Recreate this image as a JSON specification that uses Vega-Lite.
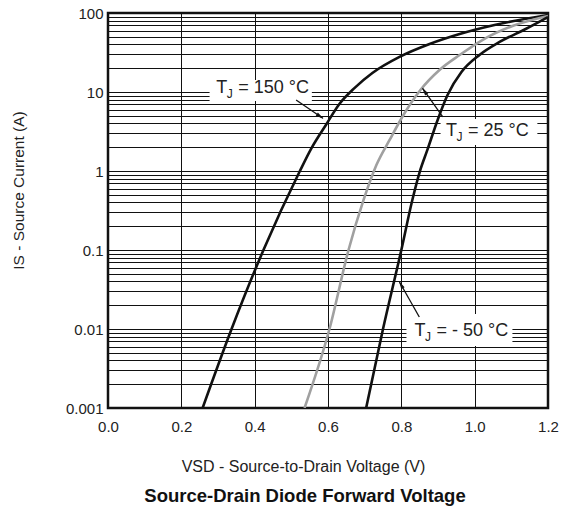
{
  "$schema": "https://vega.github.io/schema/vega-lite/v6.json",
  "width": 440,
  "height": 395,
  "autosize": {"type": "none"},
  "padding": {"left": 108, "top": 13, "right": 18, "bottom": 106},
  "background": "white",
  "config": {
    "view": {"stroke": "#111", "strokeWidth": 2.5},
    "font": "Liberation Sans"
  },
  "title": {
    "text": "Source-Drain Diode Forward Voltage",
    "orient": "bottom",
    "anchor": "middle",
    "dx": -23,
    "offset": 13,
    "fontSize": 18.5,
    "fontWeight": "bold",
    "font": "Liberation Sans",
    "color": "#111"
  },
  "datasets": {
    "curves": [
      {"series": "150", "v": 0.258, "i": 0.001},
      {"series": "150", "v": 0.337, "i": 0.01},
      {"series": "150", "v": 0.424, "i": 0.1},
      {"series": "150", "v": 0.522, "i": 0.97},
      {"series": "150", "v": 0.555, "i": 1.95},
      {"series": "150", "v": 0.596, "i": 3.94},
      {"series": "150", "v": 0.631, "i": 7.04},
      {"series": "150", "v": 0.672, "i": 11.2},
      {"series": "150", "v": 0.721, "i": 17.4},
      {"series": "150", "v": 0.795, "i": 27.8},
      {"series": "150", "v": 0.877, "i": 40.5},
      {"series": "150", "v": 0.959, "i": 54.2},
      {"series": "150", "v": 1.054, "i": 70.5},
      {"series": "150", "v": 1.2, "i": 94.3},
      {"series": "25", "v": 0.536, "i": 0.001},
      {"series": "25", "v": 0.604, "i": 0.01},
      {"series": "25", "v": 0.656, "i": 0.1},
      {"series": "25", "v": 0.697, "i": 0.43},
      {"series": "25", "v": 0.732, "i": 1.19},
      {"series": "25", "v": 0.768, "i": 2.47},
      {"series": "25", "v": 0.809, "i": 5.42},
      {"series": "25", "v": 0.852, "i": 10.6},
      {"series": "25", "v": 0.904, "i": 19},
      {"series": "25", "v": 0.959, "i": 29.4},
      {"series": "25", "v": 1.021, "i": 45.5},
      {"series": "25", "v": 1.103, "i": 68.4},
      {"series": "25", "v": 1.2, "i": 91.7},
      {"series": "-50", "v": 0.704, "i": 0.001},
      {"series": "-50", "v": 0.75, "i": 0.01},
      {"series": "-50", "v": 0.8, "i": 0.1},
      {"series": "-50", "v": 0.83, "i": 0.43},
      {"series": "-50", "v": 0.85, "i": 0.97},
      {"series": "-50", "v": 0.871, "i": 1.85},
      {"series": "-50", "v": 0.899, "i": 4.43},
      {"series": "-50", "v": 0.926, "i": 9.16},
      {"series": "-50", "v": 0.964, "i": 17.9},
      {"series": "-50", "v": 1.013, "i": 29.4},
      {"series": "-50", "v": 1.068, "i": 43},
      {"series": "-50", "v": 1.139, "i": 62.7},
      {"series": "-50", "v": 1.2, "i": 89}
    ],
    "notes": [
      {"label": "150", "tx": 0.295, "ti": 11.2, "rest": "= 150 °C", "bx1": 0.277, "bx2": 0.556, "bi1": 7.7, "bi2": 14.2, "ax1": 0.513, "ai1": 7.93, "ax2": 0.586, "ai2": 4.66, "hx": 0.577, "hi": 4.97},
      {"label": "25", "tx": 0.922, "ti": 3.2, "rest": "= 25 °C", "bx1": 0.907, "bx2": 1.171, "bi1": 2.13, "bi2": 4.55, "ax1": 0.913, "ai1": 4.86, "ax2": 0.858, "ai2": 11.1, "hx": 0.864, "hi": 10.1},
      {"label": "-50", "tx": 0.836, "ti": 0.0093, "rest": "= - 50 °C", "bx1": 0.814, "bx2": 1.103, "bi1": 0.0061, "bi2": 0.0155, "ax1": 0.849, "ai1": 0.0142, "ax2": 0.795, "ai2": 0.0394, "hx": 0.8, "hi": 0.0356}
    ]
  },
  "layer": [
    {
      "data": {"name": "notes"},
      "mark": {"type": "rect", "fill": "white"},
      "encoding": {
        "x": {
          "field": "bx1", "type": "quantitative",
          "scale": {"domain": [0, 1.2], "nice": false, "zero": false},
          "axis": {
            "title": "VSD - Source-to-Drain Voltage (V)",
            "values": [0, 0.2, 0.4, 0.6, 0.8, 1.0, 1.2],
            "format": ".1f",
            "grid": true, "gridColor": "#111", "gridWidth": 1, "gridOpacity": 1,
            "domain": false, "ticks": false,
            "labelPadding": 11, "labelFontSize": 15, "labelColor": "#222", "labelFont": "Liberation Sans", "labelFlush": false,
            "titleFontSize": 16, "titleFontWeight": "normal", "titleColor": "#222", "titleFont": "Liberation Sans",
            "titleX": 195, "titleY": 58, "titleBaseline": "middle", "titleAlign": "center"
          }
        },
        "x2": {"field": "bx2"},
        "y": {
          "field": "bi1", "type": "quantitative",
          "scale": {"type": "log", "domain": [0.001, 100], "nice": false},
          "axis": {
            "title": "IS - Source Current (A)",
            "values": [0.001, 0.002, 0.003, 0.004, 0.005, 0.006, 0.007, 0.008, 0.009,
                       0.01, 0.02, 0.03, 0.04, 0.05, 0.06, 0.07, 0.08, 0.09,
                       0.1, 0.2, 0.3, 0.4, 0.5, 0.6, 0.7, 0.8, 0.9,
                       1, 2, 3, 4, 5, 6, 7, 8, 9,
                       10, 20, 30, 40, 50, 60, 70, 80, 90, 100],
            "labelExpr": "(datum.value == 0.001 || datum.value == 0.01 || datum.value == 0.1 || datum.value == 1 || datum.value == 10 || datum.value == 100) ? format(datum.value, '~g') : ''",
            "grid": true, "gridColor": "#111", "gridWidth": 1, "gridOpacity": 1,
            "domain": false, "ticks": false,
            "labelPadding": 5, "labelFontSize": 15, "labelColor": "#222", "labelFont": "Liberation Sans", "labelFlush": false, "labelOverlap": false,
            "titleFontSize": 15.5, "titleFontWeight": "normal", "titleColor": "#222", "titleFont": "Liberation Sans",
            "titleX": -90, "titleY": 177, "titleBaseline": "middle", "titleAlign": "center"
          }
        },
        "y2": {"field": "bi2"}
      }
    },
    {
      "data": {"name": "curves"},
      "mark": {"type": "line", "strokeWidth": 2.6, "clip": true, "interpolate": "monotone"},
      "encoding": {
        "x": {"field": "v", "type": "quantitative"},
        "y": {"field": "i", "type": "quantitative"},
        "detail": {"field": "series"},
        "color": {
          "field": "series", "type": "nominal",
          "scale": {"domain": ["150", "25", "-50"], "range": ["#111111", "#a0a0a0", "#111111"]},
          "legend": null
        }
      }
    },
    {
      "data": {"name": "notes"},
      "mark": {"type": "rule", "strokeWidth": 1.3, "color": "#111"},
      "encoding": {
        "x": {"field": "ax1", "type": "quantitative"},
        "y": {"field": "ai1", "type": "quantitative"},
        "x2": {"field": "ax2"},
        "y2": {"field": "ai2"}
      }
    },
    {
      "data": {"name": "notes"},
      "transform": [{"filter": "datum.label == '150'"}],
      "mark": {"type": "point", "shape": "M0,-1L0.4,0.7L-0.4,0.7Z", "filled": true, "color": "#111", "size": 90, "angle": 124, "opacity": 1},
      "encoding": {
        "x": {"field": "hx", "type": "quantitative"},
        "y": {"field": "hi", "type": "quantitative"}
      }
    },
    {
      "data": {"name": "notes"},
      "transform": [{"filter": "datum.label == '25'"}],
      "mark": {"type": "point", "shape": "M0,-1L0.4,0.7L-0.4,0.7Z", "filled": true, "color": "#111", "size": 90, "angle": 325, "opacity": 1},
      "encoding": {
        "x": {"field": "hx", "type": "quantitative"},
        "y": {"field": "hi", "type": "quantitative"}
      }
    },
    {
      "data": {"name": "notes"},
      "transform": [{"filter": "datum.label == '-50'"}],
      "mark": {"type": "point", "shape": "M0,-1L0.4,0.7L-0.4,0.7Z", "filled": true, "color": "#111", "size": 90, "angle": 330, "opacity": 1},
      "encoding": {
        "x": {"field": "hx", "type": "quantitative"},
        "y": {"field": "hi", "type": "quantitative"}
      }
    },
    {
      "data": {"name": "notes"},
      "mark": {"type": "text", "text": "T", "align": "left", "baseline": "middle", "fontSize": 18, "font": "Liberation Sans", "color": "#222"},
      "encoding": {
        "x": {"field": "tx", "type": "quantitative"},
        "y": {"field": "ti", "type": "quantitative"}
      }
    },
    {
      "data": {"name": "notes"},
      "mark": {"type": "text", "text": "J", "align": "left", "baseline": "middle", "fontSize": 12, "dx": 10.5, "dy": 6, "font": "Liberation Sans", "color": "#222"},
      "encoding": {
        "x": {"field": "tx", "type": "quantitative"},
        "y": {"field": "ti", "type": "quantitative"}
      }
    },
    {
      "data": {"name": "notes"},
      "mark": {"type": "text", "align": "left", "baseline": "middle", "fontSize": 18, "dx": 22, "font": "Liberation Sans", "color": "#222"},
      "encoding": {
        "x": {"field": "tx", "type": "quantitative"},
        "y": {"field": "ti", "type": "quantitative"},
        "text": {"field": "rest"}
      }
    }
  ]
}
